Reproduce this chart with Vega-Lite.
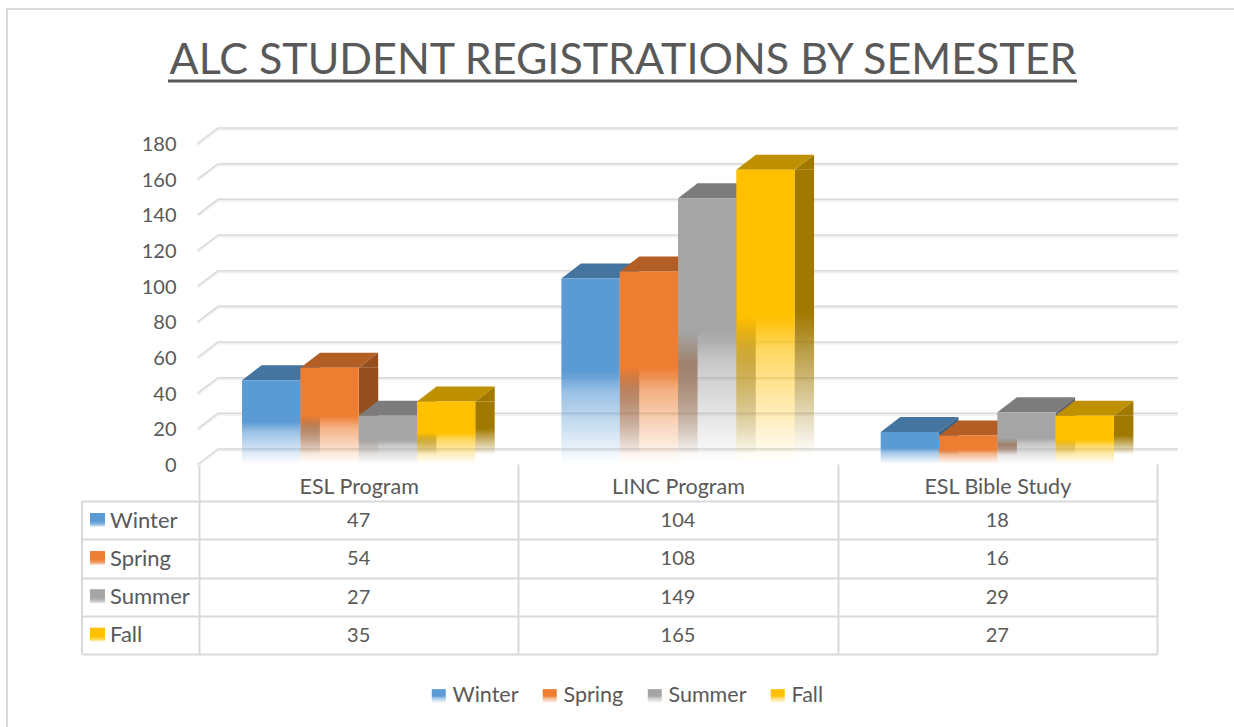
{
"$schema":"https://vega.github.io/schema/vega-lite/v6.json",
"width":1234,"height":727,"padding":0,"autosize":{"type":"none"},"background":"white",
"title":{"text":"ALC STUDENT REGISTRATIONS BY SEMESTER","anchor":"middle","frame":"group","orient":"top","baseline":"alphabetic","offset":-128,"dx":6,"fontSize":43,"fontWeight":"normal","font":"Lato","color":"#595959"},
"config":{"view":{"stroke":null},"font":"Lato","text":{"font":"Lato"},
"axisYQuantitative":{"offset":-176,"values":[0,20,40,60,80,100,120,140,160,180],"domain":false,"ticks":false,"grid":false,"labelPadding":0,"labelOffset":1.5,"labelFontSize":20,"labelFont":"Lato","labelColor":"#595959"},
"axisXBand":{"offset":-263,"domain":false,"grid":false,"ticks":true,"tickBand":"extent","tickSize":190,"tickColor":"#d9d9d9","tickWidth":2,"labelAngle":0,"labelPadding":-167,"labelBaseline":"middle","labelFontSize":21.5,"labelFont":"Lato","labelColor":"#595959"}},
"data":{"values":[
{"program":"ESL Program","series":"Winter","students":47},
{"program":"ESL Program","series":"Spring","students":54},
{"program":"ESL Program","series":"Summer","students":27},
{"program":"ESL Program","series":"Fall","students":35},
{"program":"LINC Program","series":"Winter","students":104},
{"program":"LINC Program","series":"Spring","students":108},
{"program":"LINC Program","series":"Summer","students":149},
{"program":"LINC Program","series":"Fall","students":165},
{"program":"ESL Bible Study","series":"Winter","students":18},
{"program":"ESL Bible Study","series":"Spring","students":16},
{"program":"ESL Bible Study","series":"Summer","students":29},
{"program":"ESL Bible Study","series":"Fall","students":27}
]},
"resolve":{"scale":{"y":"independent"}},
"layer":[
{"encoding":{
"x":{"field":"program","type":"nominal","sort":null,"title":null,"scale":{"type":"band","domain":["ESL Program","LINC Program","ESL Bible Study"],"range":[199,1157],"paddingInner":0,"paddingOuter":0}},
"xOffset":{"field":"series","type":"nominal","scale":{"domain":["Winter","Spring","Summer","Fall"],"paddingInner":0,"paddingOuter":0.738}},
"y":{"field":"students","type":"quantitative","stack":null,"title":null,"scale":{"domain":[0,180],"range":[464,143],"nice":false}}
},
"layer":[
{"data":{"values":[{"tick":0}]},
"mark":{"type":"point","shape":"M-192,263 L-192,-455 L1035,-455","size":4,"filled":false,"opacity":1,"stroke":"#d9d9d9","strokeWidth":2},
"encoding":{"xOffset":null,"x":{"datum":"ESL Program","type":"nominal","bandPosition":0,"title":null},"y":{"field":"tick","type":"quantitative","title":null}}},
{"data":{"values":[{"tick":0}]},
"mark":{"type":"point","shape":"M-31,-384.5 L878,-384.5 L878,-381.5 L-31,-381.5 Z","size":4,"filled":true,"opacity":1,"fill":"#595959","strokeWidth":0},
"encoding":{"xOffset":null,"x":{"datum":"ESL Program","type":"nominal","bandPosition":0,"title":null},"y":{"field":"tick","type":"quantitative","title":null}}},
{"data":{"values":[{"tick":0},{"tick":20},{"tick":40},{"tick":60},{"tick":80},{"tick":100},{"tick":120},{"tick":140},{"tick":160},{"tick":180}]},
"mark":{"type":"point","shape":"M-1.5,2 L19,-13.5 L979,-13.5","size":4,"filled":false,"opacity":1,"stroke":"#f0f0f0","strokeWidth":2},
"encoding":{"xOffset":null,"x":{"datum":"ESL Program","type":"nominal","bandPosition":0,"title":null},"y":{"field":"tick","type":"quantitative","title":null}}},
{"data":{"values":[{"tick":0},{"tick":20},{"tick":40},{"tick":60},{"tick":80},{"tick":100},{"tick":120},{"tick":140},{"tick":160},{"tick":180}]},
"mark":{"type":"point","shape":"M-1.5,0.5 L19,-15 L979,-15","size":4,"filled":false,"opacity":1,"stroke":"#d9d9d9","strokeWidth":1.5},
"encoding":{"xOffset":null,"x":{"datum":"ESL Program","type":"nominal","bandPosition":0,"title":null},"y":{"field":"tick","type":"quantitative","title":null}}},
{"transform":[{"filter":"datum.series==='Winter'"}],
"mark":{"type":"bar","width":19.5,"xOffset":-48.5,"y2Offset":-9,"fill":{"gradient":"linear","x1":0,"y1":0,"x2":0,"y2":1,"stops":[{"offset":0,"color":"rgba(57,98,134,1)"},{"offset":0.5,"color":"rgba(57,98,134,1)"},{"offset":1,"color":"rgba(57,98,134,0)"}]}},
"encoding":{"xOffset":null,"y2":{"datum":0}}},
{"transform":[{"filter":"datum.series==='Spring'"}],
"mark":{"type":"bar","width":19.5,"xOffset":9.8,"y2Offset":-9,"fill":{"gradient":"linear","x1":0,"y1":0,"x2":0,"y2":1,"stops":[{"offset":0,"color":"rgba(149,79,31,1)"},{"offset":0.5,"color":"rgba(149,79,31,1)"},{"offset":1,"color":"rgba(149,79,31,0)"}]}},
"encoding":{"xOffset":null,"y2":{"datum":0}}},
{"transform":[{"filter":"datum.series==='Summer'"}],
"mark":{"type":"bar","width":19.5,"xOffset":68,"y2Offset":-9,"fill":{"gradient":"linear","x1":0,"y1":0,"x2":0,"y2":1,"stops":[{"offset":0,"color":"rgba(104,104,104,1)"},{"offset":0.5,"color":"rgba(104,104,104,1)"},{"offset":1,"color":"rgba(104,104,104,0)"}]}},
"encoding":{"xOffset":null,"y2":{"datum":0}}},
{"transform":[{"filter":"datum.series==='Fall'"}],
"mark":{"type":"bar","width":19.5,"xOffset":126.3,"y2Offset":-9,"fill":{"gradient":"linear","x1":0,"y1":0,"x2":0,"y2":1,"stops":[{"offset":0,"color":"rgba(161,121,0,1)"},{"offset":0.5,"color":"rgba(161,121,0,1)"},{"offset":1,"color":"rgba(161,121,0,0)"}]}},
"encoding":{"xOffset":null,"y2":{"datum":0}}},
{"mark":{"type":"point","shape":"M29.1,0 L48.6,-15 L48.6,0 Z","size":4,"filled":true,"opacity":1,"strokeWidth":0},
"encoding":{"fill":{"condition":[{"test":"datum.series==='Winter'","value":"#396286"},{"test":"datum.series==='Spring'","value":"#954f1f"},{"test":"datum.series==='Summer'","value":"#686868"}],"value":"#a17900"}}},
{"mark":{"type":"point","shape":"M-29.1,0 L29.1,0 L48.6,-15 L-9.6,-15 Z","size":4,"filled":true,"opacity":1,"strokeWidth":0},
"encoding":{"fill":{"condition":[{"test":"datum.series==='Winter'","value":"#4474a0"},{"test":"datum.series==='Spring'","value":"#b25e25"},{"test":"datum.series==='Summer'","value":"#7c7c7c"}],"value":"#bf9000"}}},
{"mark":{"type":"bar"},
"encoding":{"y2":{"datum":0},
"fill":{"field":"series","type":"nominal","title":null,"scale":{"domain":["Winter","Spring","Summer","Fall"],"range":[
{"signal":"{gradient:'linear',x1:0,y1:0,x2:0,y2:1,stops:[{offset:0,color:'rgba(91,155,213,1)'},{offset:0.5,color:'rgba(91,155,213,1)'},{offset:0.62,color:'rgba(91,155,213,0.6)'},{offset:1,color:'rgba(91,155,213,0)'}]}"},
{"signal":"{gradient:'linear',x1:0,y1:0,x2:0,y2:1,stops:[{offset:0,color:'rgba(237,125,49,1)'},{offset:0.5,color:'rgba(237,125,49,1)'},{offset:0.62,color:'rgba(237,125,49,0.6)'},{offset:1,color:'rgba(237,125,49,0)'}]}"},
{"signal":"{gradient:'linear',x1:0,y1:0,x2:0,y2:1,stops:[{offset:0,color:'rgba(165,165,165,1)'},{offset:0.5,color:'rgba(165,165,165,1)'},{offset:0.62,color:'rgba(165,165,165,0.6)'},{offset:1,color:'rgba(165,165,165,0)'}]}"},
{"signal":"{gradient:'linear',x1:0,y1:0,x2:0,y2:1,stops:[{offset:0,color:'rgba(255,192,0,1)'},{offset:0.5,color:'rgba(255,192,0,1)'},{offset:0.62,color:'rgba(255,192,0,0.6)'},{offset:1,color:'rgba(255,192,0,0)'}]}"}
]},"legend":{"orient":"none","legendX":428,"legendY":685,"direction":"horizontal","columns":4,"title":null,"symbolType":"square","symbolSize":196,"symbolStrokeWidth":0,"labelFontSize":21.5,"labelFont":"Lato","labelColor":"#595959","labelOffset":3,"columnPadding":20,"symbolOpacity":1}}}}
]},
{"encoding":{
"x":{"field":"program","type":"nominal","sort":null,"title":null,"scale":{"type":"band","domain":["ESL Program","LINC Program","ESL Bible Study"],"range":[199,1157],"paddingInner":0,"paddingOuter":0}},
"y":{"field":"series","type":"nominal","sort":null,"title":null,"scale":{"type":"band","domain":["Winter","Spring","Summer","Fall"],"range":[501,654],"paddingInner":0,"paddingOuter":0},
"axis":{"orient":"left","offset":-199,"domain":false,"grid":true,"gridColor":"#d9d9d9","gridWidth":2,"ticks":true,"tickBand":"extent","tickSize":117,"tickColor":"#d9d9d9","tickWidth":2,"labelAlign":"left","labelPadding":-27.5,"labelFontSize":22,"labelFont":"Lato","labelColor":"#595959"}}
},
"layer":[
{"mark":{"type":"text","fontSize":20,"font":"Lato","color":"#595959","dy":1},"encoding":{"text":{"field":"students","type":"quantitative"}}},
{"data":{"values":[{"part":"tableLeft"}]},
"mark":{"type":"point","shape":"M-117,-19 L-117,134","size":4,"filled":false,"opacity":1,"stroke":"#d9d9d9","strokeWidth":2},
"encoding":{"x":{"datum":"ESL Program","type":"nominal","bandPosition":0,"title":null},"y":{"datum":"Winter","type":"nominal","bandPosition":0.5,"title":null,"axis":{"orient":"left","offset":-199,"domain":false,"grid":true,"gridColor":"#d9d9d9","gridWidth":2,"ticks":true,"tickBand":"extent","tickSize":117,"tickColor":"#d9d9d9","tickWidth":2,"labelAlign":"left","labelPadding":-27.5,"labelFontSize":22,"labelFont":"Lato","labelColor":"#595959"}}}},
{"mark":{"type":"point","shape":"M-109,-7 L-94,-7 L-94,7 L-109,7 Z","size":4,"filled":true,"opacity":1,"strokeWidth":0},
"encoding":{"x":{"datum":"ESL Program","type":"nominal","bandPosition":0,"title":null},
"fill":{"field":"series","type":"nominal","title":null,"legend":{"orient":"none","legendX":428,"legendY":685,"direction":"horizontal","columns":4,"title":null,"symbolType":"square","symbolSize":196,"symbolStrokeWidth":0,"labelFontSize":21.5,"labelFont":"Lato","labelColor":"#595959","labelOffset":3,"columnPadding":20,"symbolOpacity":1}}}}
]}
]}
